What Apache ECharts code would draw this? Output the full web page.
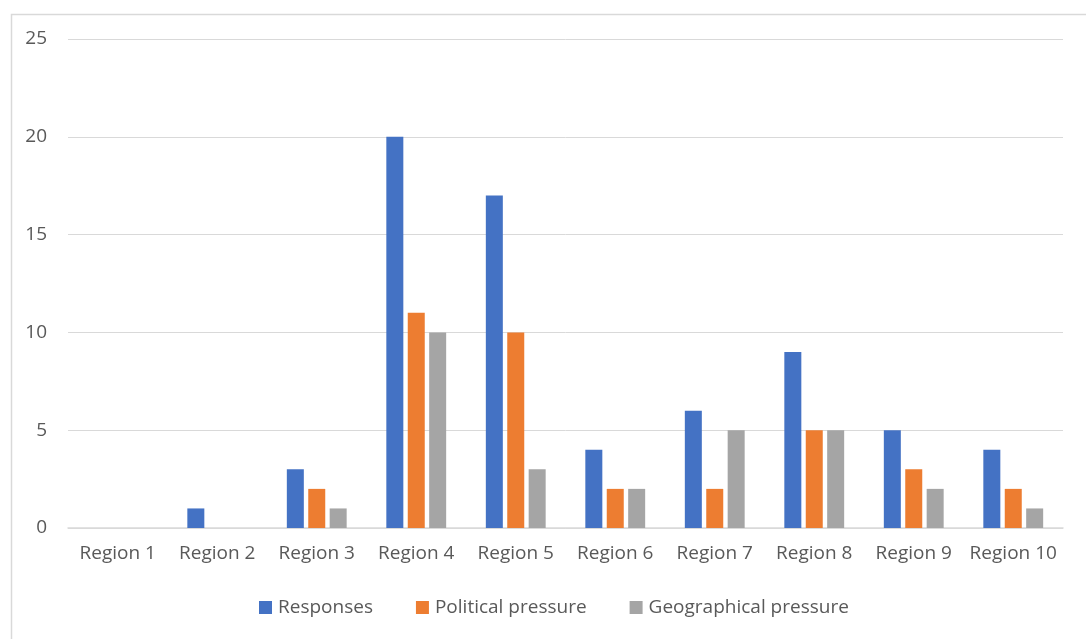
<!DOCTYPE html>
<html>
<head>
<meta charset="utf-8">
<script src="https://cdn.jsdelivr.net/npm/echarts@6/dist/echarts.min.js"></script>
<style>
html,body{margin:0;padding:0;background:#fff;}
#main{width:1086px;height:639px;}
</style>
</head>
<body>
<div id="main"></div>
<script>
var categories = ['Region 1','Region 2','Region 3','Region 4','Region 5','Region 6','Region 7','Region 8','Region 9','Region 10'];
var responses = [0,1,3,20,17,4,6,9,5,4];
var politicalPressure = [0,0,2,11,10,2,2,5,3,2];
var geographicalPressure = [0,0,1,10,3,2,5,5,2,1];
var yTicks = [0,5,10,15,20,25];

var chart = echarts.init(document.getElementById('main'), null, {renderer:'canvas'});
var font = '"Open Sans", "Noto Sans", sans-serif';
var textColor = '#595959';
chart.setOption({
  animation:false,
  backgroundColor:'#fff',
  textStyle:{fontFamily:font},
  graphic:[{
    type:'rect', left:9, top:12,
    shape:{width:1200, height:700},
    style:{fill:'none', stroke:'#d9d9d9', lineWidth:1.5},
    silent:true
  }],
  grid:{left:68, right:23, top:39, bottom:111, containLabel:false},
  legend:{
    top:593, left:254,
    itemWidth:13, itemHeight:13, itemGap:43,
    icon:'rect',
    textStyle:{color:textColor, fontSize:19, fontFamily:font, padding:[0,0,0,1]},
    data:['Responses','Political pressure','Geographical pressure']
  },
  xAxis:{
    type:'category', data:categories,
    axisLine:{show:true, lineStyle:{color:'#d9d9d9', width:1.5}},
    axisTick:{show:false},
    axisLabel:{color:textColor, fontSize:19, margin:16, fontFamily:font, interval:0}
  },
  yAxis:{
    type:'value', min:yTicks[0], max:yTicks[yTicks.length-1], interval:5,
    axisLine:{show:false}, axisTick:{show:false},
    splitLine:{lineStyle:{color:'#d9d9d9', width:1}},
    axisLabel:{color:textColor, fontSize:19, margin:21, fontFamily:font}
  },
  series:[
    {name:'Responses', type:'bar', data:responses, barWidth:17, barGap:'26%', itemStyle:{color:'#4472C4'}},
    {name:'Political pressure', type:'bar', data:politicalPressure, barWidth:17, barGap:'26%', itemStyle:{color:'#ED7D31'}},
    {name:'Geographical pressure', type:'bar', data:geographicalPressure, barWidth:17, barGap:'26%', itemStyle:{color:'#A5A5A5'}}
  ]
});
</script>
</body>
</html>
